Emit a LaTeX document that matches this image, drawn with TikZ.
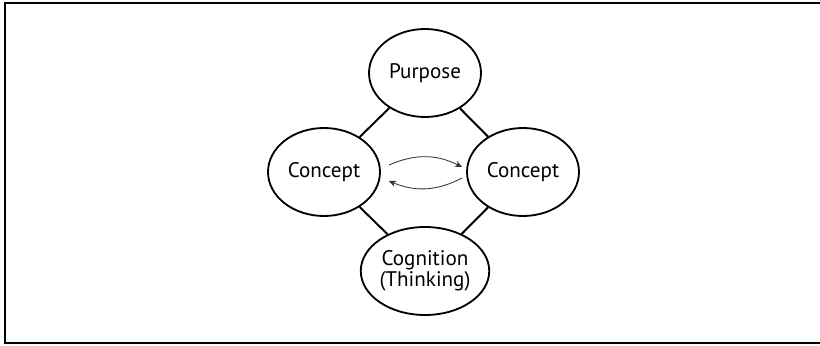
\documentclass[tikz,border=0pt]{standalone}
\usepackage{fontspec}
\setmainfont{PT Sans}
\usetikzlibrary{arrows.meta,shapes.geometric}
\tikzset{
  >={Stealth[length=1.8mm,width=1.6mm]},
  bubble/.style={ellipse,draw=black,line width=1.3pt,fill=white,minimum width=28mm,
    minimum height=22mm,inner sep=0pt,align=center,font=\fontsize{15}{15}\selectfont},
  link/.style={draw=black,line width=1.4pt},
  swap/.style={->,line width=0.6pt,draw=black!80,bend left=25},
}
\begin{document}
\begin{tikzpicture}
        \useasboundingbox (0,0) rectangle (20.5,8.625);
        \draw[line width=1.3pt] (0.125,0.05) rectangle (20.6,8.55);
        \node[bubble] (purpose) at (10.625,6.8) {Purpose};
        \node[bubble] (left) at (8.1,4.325) {Concept};
        \node[bubble] (right) at (13.075,4.325) {Concept};
        \node[bubble] (cognition) at (10.625,1.85) {Cognition\\(Thinking)};
        \foreach \a/\b in {purpose/left,purpose/right,left/cognition,right/cognition}
          \draw[link] (\a) -- (\b);
        \draw[swap] ([xshift=2mm,yshift=1.75mm]left.east) to ([xshift=-1mm,yshift=1.25mm]right.west);
        \draw[swap] ([xshift=-1mm,yshift=-1.5mm]right.west) to ([xshift=2mm,yshift=-2.25mm]left.east);
      \end{tikzpicture}
\end{document}
